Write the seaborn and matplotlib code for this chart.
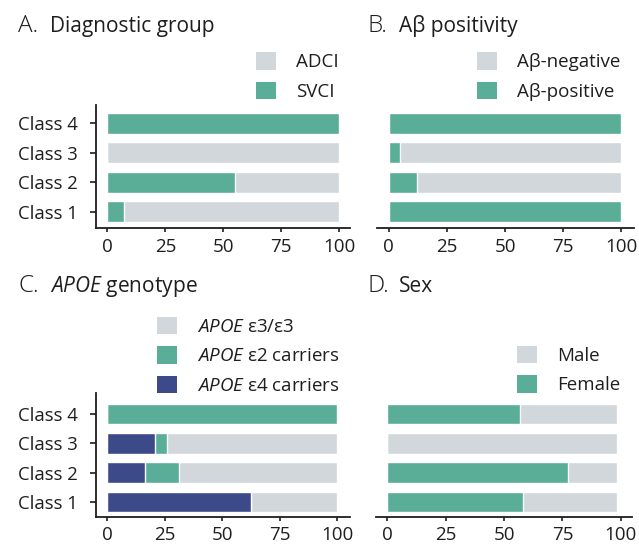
import matplotlib
matplotlib.use("Agg")
import matplotlib.pyplot as plt
import seaborn as sns
import pandas as pd
import numpy as np
from matplotlib.patches import Patch

# Latent classes, listed bottom to top
classes = ["Class 1", "Class 2", "Class 3", "Class 4"]
order = classes[::-1]
xticks = [0, 25, 50, 75, 100]

# A. Diagnostic group (%)
svci = [7.0, 54.9, 0.0, 100.0]
adci = [93.0, 45.1, 100.0, 0.0]

# B. Amyloid status (%)
abeta_pos = [100.0, 12.1, 4.7, 100.0]
abeta_neg = [0.0, 87.9, 95.3, 0.0]

# C. APOE genotype (%)
apoe_e4 = [62.5, 16.3, 20.8, 0.0]
apoe_e2 = [0.0, 14.8, 5.1, 100.0]
apoe_e33 = [37.5, 68.9, 74.1, 0.0]

# D. Sex (%)
female = [58.3, 77.4, 0.0, 56.6]
male = [40.2, 21.1, 98.5, 41.9]

GREEN = "#5AAE98"
GREY = "#D2D7DB"
NAVY = "#3D4A8A"
INK = "#1E1E1E"

sns.set_style("ticks")
plt.rcParams["font.family"] = ["Open Sans", "DejaVu Sans"]
plt.rcParams["mathtext.fontset"] = "custom"
plt.rcParams["mathtext.rm"] = "Open Sans"
plt.rcParams["mathtext.it"] = "Open Sans:italic"
plt.rcParams["text.color"] = INK
plt.rcParams["axes.edgecolor"] = INK
plt.rcParams["xtick.color"] = INK
plt.rcParams["ytick.color"] = INK

W, H = 639, 548
fig = plt.figure(figsize=(W / 100, H / 100), dpi=100)


def px_axes(left, top, right, bottom):
    return fig.add_axes([left / W, 1 - bottom / H, (right - left) / W, (bottom - top) / H])


def stacked(ax, segments):
    """Stack segments left to right; draw longest cumulative bar first."""
    cum = np.zeros(len(classes))
    layers = []
    for vals, color in segments:
        cum = cum + np.asarray(vals, dtype=float)
        layers.append((cum.copy(), color))
    for c, color in reversed(layers):
        df = pd.DataFrame({"Class": classes, "pct": c})
        sns.barplot(data=df, x="pct", y="Class", order=order, orient="h",
                    color=color, saturation=1, width=0.7,
                    edgecolor="white", linewidth=1.0, ax=ax)
    ax.set_xlabel("")
    ax.set_ylabel("")


def style(ax, xlim, ylim, show_y):
    ax.set_xlim(*xlim)
    ax.set_ylim(*ylim)
    ax.set_xticks(xticks)
    ax.tick_params(axis="x", labelsize=13.5, length=3, width=1.2, pad=4)
    sns.despine(ax=ax, left=not show_y)
    for s in ax.spines.values():
        s.set_linewidth(1.3)
    if show_y:
        ax.tick_params(axis="y", labelsize=13.3, length=4, width=1.2, pad=9)
    else:
        ax.tick_params(axis="y", left=False, labelleft=False)


def legend(ax, items, x, y):
    handles = [Patch(facecolor=c, edgecolor="none", label=l) for l, c in items]
    fig.legend(handles=handles, loc="upper left",
               bbox_to_anchor=(x / W, 1 - y / H), bbox_transform=fig.transFigure,
               frameon=False, fontsize=13.5, handlelength=1.07, handleheight=1.07,
               handletextpad=1.07, labelspacing=0.55, borderpad=0, borderaxespad=0)


def title(letter, text, x, y):
    fig.text(x / W, 1 - y / H, letter, fontsize=17.5, va="baseline", ha="left",
             fontweight="light")
    fig.text((x + 32) / W, 1 - y / H, text, fontsize=15, va="baseline", ha="left")


# A
axA = px_axes(96, 105, 350, 228.3)
stacked(axA, [(svci, GREEN), (adci, GREY)])
style(axA, (-4.9, 104.6), (3.56, -0.62), True)
legend(axA, [("ADCI", GREY), ("SVCI", GREEN)], 255.7, 52)
title("A.", "Diagnostic group", 18, 32)

# B
axB = px_axes(377, 105, 634, 228.3)
stacked(axB, [(abeta_pos, GREEN), (abeta_neg, GREY)])
style(axB, (-5.0, 105.4), (3.56, -0.62), False)
legend(axB, [("Aβ-negative", GREY), ("Aβ-positive", GREEN)], 476.7, 52)
title("B.", "Aβ positivity", 367, 32)

# C
axC = px_axes(96, 393.3, 350, 516.7)
stacked(axC, [(apoe_e4, NAVY), (apoe_e2, GREEN), (apoe_e33, GREY)])
style(axC, (-4.9, 105.5), (3.51, -0.71), True)
legend(axC, [(r"$\mathit{APOE}$ ε3/ε3", GREY),
             (r"$\mathit{APOE}$ ε2 carriers", GREEN),
             (r"$\mathit{APOE}$ ε4 carriers", NAVY)], 156.7, 316.5)
title("C.", r"$\mathit{APOE}$ genotype", 18, 292)

# D
axD = px_axes(376, 393.3, 632, 516.7)
stacked(axD, [(female, GREEN), (male, GREY)])
style(axD, (-4.9, 104.8), (3.51, -0.71), False)
legend(axD, [("Male", GREY), ("Female", GREEN)], 516.7, 345.5)
title("D.", "Sex", 367, 292)

fig.savefig("out.png", dpi=100)
